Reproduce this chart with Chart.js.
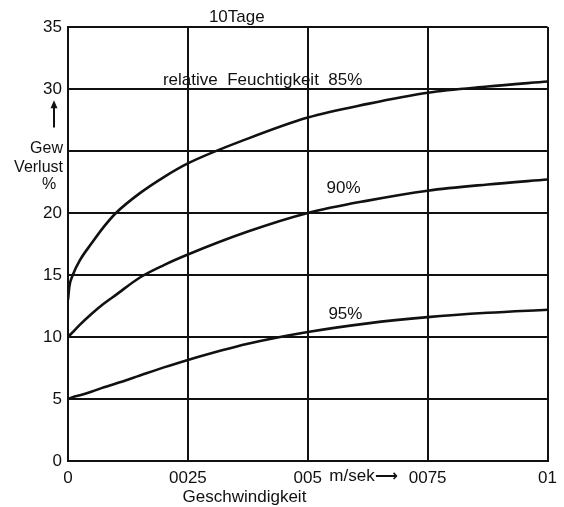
<!DOCTYPE html>
<html>
<head>
<meta charset="utf-8">
<script src="https://cdn.jsdelivr.net/npm/chart.js@4.4.1/dist/chart.umd.min.js"></script>
<style>
  html, body { margin: 0; padding: 0; background: #fff; }
  #wrap { width: 564px; height: 507px; }
</style>
</head>
<body>
<div id="wrap"><canvas id="chart" width="564" height="507"></canvas></div>
<script>
// Geschwindigkeit in m/sek
const speed = [0, 0.0003, 0.001, 0.0025, 0.005, 0.0075, 0.01, 0.015, 0.02, 0.025, 0.0375, 0.05, 0.0625, 0.075, 0.0875, 0.1]
// Gewichtsverlust % bei relativer Feuchtigkeit
const rh85 = [13.0, 14.1, 15.0, 16.2, 17.6, 18.9, 20.0, 21.6, 22.9, 24.0, 26.0, 27.7, 28.8, 29.7, 30.2, 30.6]
const rh90 = [10.0, 10.12, 10.4, 11.0, 11.9, 12.7, 13.4, 14.8, 15.8, 16.65, 18.5, 20.0, 21.0, 21.8, 22.3, 22.7]
const rh95 = [5.0, 5.05, 5.15, 5.3, 5.6, 5.95, 6.25, 6.9, 7.55, 8.15, 9.45, 10.4, 11.1, 11.6, 11.95, 12.2]

const xTickLabels = ["0", "0025", "005", "0075", "01"]
const yTickLabels = {0: "0", 5: "5", 10: "10", 15: "15", 20: "20", 25: "", 30: "30", 35: "35"}

// texts placed in data units [text, x, y, align, font]
const notes = [
  ["10Tage", 0.0352, 35.8, "center"],
  ["relative  Feuchtigkeit  85%", 0.0198, 30.7, "left"],
  ["90%", 0.0539, 22.0, "left"],
  ["95%", 0.0543, 11.85, "left"],
  ["m/sek", 0.0545, -1.25, "left"],
  ["\u27F6", 0.0640, -1.25, "left", "bold 16px \"DejaVu Sans\""],
  ["Geschwindigkeit", 0.0368, -2.95, "center"]
]

const FONT = '"Liberation Sans", Arial, sans-serif'
const ink = "#111"

const pts = ys => speed.map((s, i) => ({x: s, y: ys[i]}))

const notesPlugin = {
  id: "notes",
  afterDraw(chart) {
    const ctx = chart.ctx
    const xs = chart.scales.x, ys = chart.scales.y
    ctx.save()
    ctx.fillStyle = ink
    ctx.textBaseline = "middle"
    notes.forEach(n => {
      ctx.font = n[4] || "17px " + FONT
      ctx.textAlign = n[3]
      ctx.fillText(n[0], xs.getPixelForValue(n[1]), ys.getPixelForValue(n[2]))
    })
    // y axis title with arrow
    ctx.font = "16px " + FONT
    const L = chart.chartArea.left
    ctx.textAlign = "right"
    ctx.fillText("Gew", L - 5, ys.getPixelForValue(25.2))
    ctx.fillText("Verlust", L - 5, ys.getPixelForValue(23.7))
    ctx.textAlign = "center"
    ctx.fillText("%", L - 19, ys.getPixelForValue(22.3))
    const ax = L - 14
    const y0 = ys.getPixelForValue(26.9), y1 = ys.getPixelForValue(29.1)
    ctx.strokeStyle = ink
    ctx.lineWidth = 2
    ctx.beginPath()
    ctx.moveTo(ax, y0)
    ctx.lineTo(ax, y1 + 6)
    ctx.stroke()
    ctx.beginPath()
    ctx.moveTo(ax, y1)
    ctx.lineTo(ax - 3.5, y1 + 8)
    ctx.lineTo(ax + 3.5, y1 + 8)
    ctx.closePath()
    ctx.fill()
    ctx.restore()
  }
}

const series = (data) => ({
  data: pts(data),
  borderColor: ink,
  borderWidth: 2.6,
  pointRadius: 0,
  fill: false,
  cubicInterpolationMode: "monotone"
})

new Chart(document.getElementById("chart"), {
  type: "line",
  data: {
    datasets: [series(rh85), series(rh90), series(rh95)]
  },
  options: {
    responsive: false,
    animation: false,
    layout: { padding: { top: 27, right: 10, bottom: 0, left: 0 } },
    plugins: { legend: { display: false }, tooltip: { enabled: false } },
    scales: {
      x: {
        type: "linear",
        min: 0,
        max: 0.1,
        afterFit: s => { s.height = 46 },
        ticks: {
          stepSize: 0.025,
          padding: 7,
          maxRotation: 0,
          color: ink,
          font: { size: 17, family: FONT },
          callback: (v, i) => xTickLabels[i]
        },
        grid: { color: ink, lineWidth: 2, drawTicks: false },
        border: { color: ink, width: 2 }
      },
      y: {
        min: 0,
        max: 35,
        afterFit: s => { s.width = 68 },
        ticks: {
          stepSize: 5,
          padding: 6,
          color: ink,
          font: { size: 17, family: FONT },
          callback: v => yTickLabels[v]
        },
        grid: { color: ink, lineWidth: 2, drawTicks: false },
        border: { color: ink, width: 2 }
      }
    }
  },
  plugins: [notesPlugin]
})
</script>
</body>
</html>
